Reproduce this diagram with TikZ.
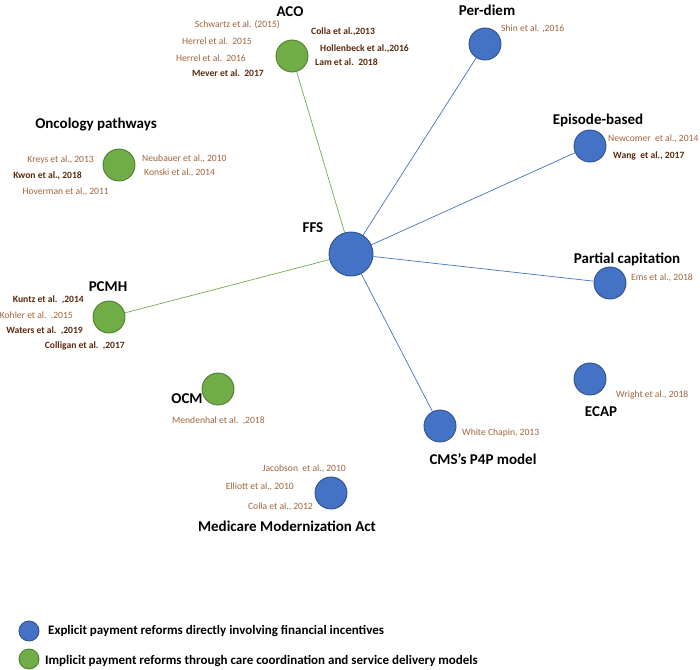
\documentclass[tikz,border=0pt]{standalone}
\usepackage{fontspec}
\setmainfont{Carlito}
\definecolor{expblue}{HTML}{4472C4}
\definecolor{expline}{HTML}{2F528F}
\definecolor{impgreen}{HTML}{70AD47}
\definecolor{impline}{HTML}{507E32}
\definecolor{citelight}{HTML}{A0643C}
\definecolor{citedark}{HTML}{5A2A0E}

\begin{document}
\begin{tikzpicture}[x=1pt, y=-1pt,
  every node/.style = {inner sep=0pt},
  reform/.style = {circle, line width=0.9pt, minimum size=32pt},
  explicit/.style = {reform, fill=expblue, draw=expline},
  implicit/.style = {reform, fill=impgreen, draw=impline},
  title/.style = {font=\fontsize{15}{17}\selectfont\bfseries},
  cite/.style = {font=\fontsize{9.6}{11}\selectfont, text=citelight},
  citeb/.style = {font=\fontsize{9.6}{11}\selectfont\bfseries, text=citedark},
  legend/.style = {font=\fontsize{13}{15}\selectfont\bfseries, anchor=west},
  bline/.style = {draw=expblue, line width=0.7pt},
  gline/.style = {draw=impgreen, line width=0.7pt}]
  \useasboundingbox (0,0) rectangle (700,669);

  % reforms
  \node[explicit, minimum size=44pt] (ffs) at (351,254) {};
  \node[implicit] (aco) at (292,56) {};
  \node[explicit] (perdiem) at (485,44) {};
  \node[explicit] (episode) at (590,146) {};
  \node[implicit] (onco) at (119,165) {};
  \node[explicit] (partial) at (610,283) {};
  \node[implicit] (pcmh) at (109,317) {};
  \node[implicit] (ocm) at (218,389) {};
  \node[explicit] (ecap) at (590,379) {};
  \node[explicit] (p4p) at (440,426) {};
  \node[explicit] (mma) at (331,493) {};

  % links from FFS
  \draw[gline] (ffs) -- (aco);
  \draw[gline] (ffs) -- (pcmh);
  \draw[bline] (ffs) -- (perdiem);
  \draw[bline] (ffs) -- (episode);
  \draw[bline] (ffs) -- (partial);
  \draw[bline] (ffs) -- (p4p);

  % titles
  \node[title] (ffst) at (313,228) {FFS};
  \node[title] (acot) at (290,12) {ACO};
  \node[title] (perdiemt) at (487,10) {Per-diem};
  \node[title] (episodet) at (598,120) {Episode-based};
  \node[title] (oncot) at (96,125) {Oncology pathways};
  \node[title] (partialt) at (627,259) {Partial capitation};
  \node[title] (pcmht) at (108,287) {PCMH};
  \node[title] (ocmt) at (187,399) {OCM};
  \node[title] (ecapt) at (601,412) {ECAP};
  \node[title] (p4pt) at (483,459) {CMS’s P4P model};
  \node[title] (mmat) at (287,526) {Medicare Modernization Act};

  % ACO studies
  \node[cite, anchor=east] (c1) at (280,25) {Schwartz et al. (2015)};
  \node[cite, anchor=east] (c2) at (252,41) {Herrel et al.\ \ 2015};
  \node[cite, anchor=east] (c3) at (246,58) {Herrel et al.\ \ 2016};
  \node[citeb, anchor=east] (c4) at (264,73) {Mever et al.\ \ 2017};
  \node[citeb, anchor=west] (c5) at (311,32) {Colla et al.,2013};
  \node[citeb, anchor=west] (c6) at (320,49) {Hollenbeck et al.,2016};
  \node[citeb, anchor=west] (c7) at (315,62) {Lam et al.\ \ 2018};

  % per-diem, episode
  \node[cite, anchor=west] (c8) at (501,29) {Shin et al. ,2016};
  \node[cite, anchor=west] (c9) at (608,139) {Newcomer\ \ et al., 2014};
  \node[citeb, anchor=west] (c10) at (613,156) {Wang\ \ et al., 2017};

  % oncology pathways
  \node[cite, anchor=east] (c11) at (94,160) {Kreys et al., 2013};
  \node[citeb, anchor=east] (c12) at (82,176) {Kwon et al., 2018};
  \node[cite, anchor=east] (c13) at (109,192) {Hoverman et al., 2011};
  \node[cite, anchor=west] (c14) at (142,159) {Neubauer et al., 2010};
  \node[cite, anchor=west] (c15) at (144,173) {Konski et al., 2014};

  % PCMH
  \node[citeb, anchor=east] (c16) at (84,300) {Kuntz et al.\ \ ,2014};
  \node[cite, anchor=east] (c17) at (73,316) {Kohler et al.\ \ ,2015};
  \node[citeb, anchor=east] (c18) at (83,331) {Waters et al.\ \ ,2019};
  \node[citeb, anchor=east] (c19) at (125,346) {Colligan et al.\ \ ,2017};

  % the rest
  \node[cite, anchor=west] (c20) at (172,421) {Mendenhal et al.\ \ ,2018};
  \node[cite, anchor=west] (c21) at (462,433) {White Chapin, 2013};
  \node[cite, anchor=west] (c22) at (631,278) {Ems et al., 2018};
  \node[cite, anchor=west] (c23) at (616,395) {Wright et al., 2018};
  \node[cite, anchor=east] (c24) at (346,469) {Jacobson\ \ et al., 2010};
  \node[cite, anchor=east] (c25) at (294,487) {Elliott et al., 2010};
  \node[cite, anchor=east] (c26) at (313,507) {Colla et al., 2012};

  % legend
  \node[explicit, minimum size=20pt] (legb) at (29,631) {};
  \node[implicit, minimum size=20pt] (legg) at (29,659) {};
  \node[legend] (legbt) at (48,631)
    {Explicit payment reforms directly involving financial incentives};
  \node[legend] (leggt) at (45,661)
    {Implicit payment reforms through care coordination and service delivery models};
\end{tikzpicture}
\end{document}
